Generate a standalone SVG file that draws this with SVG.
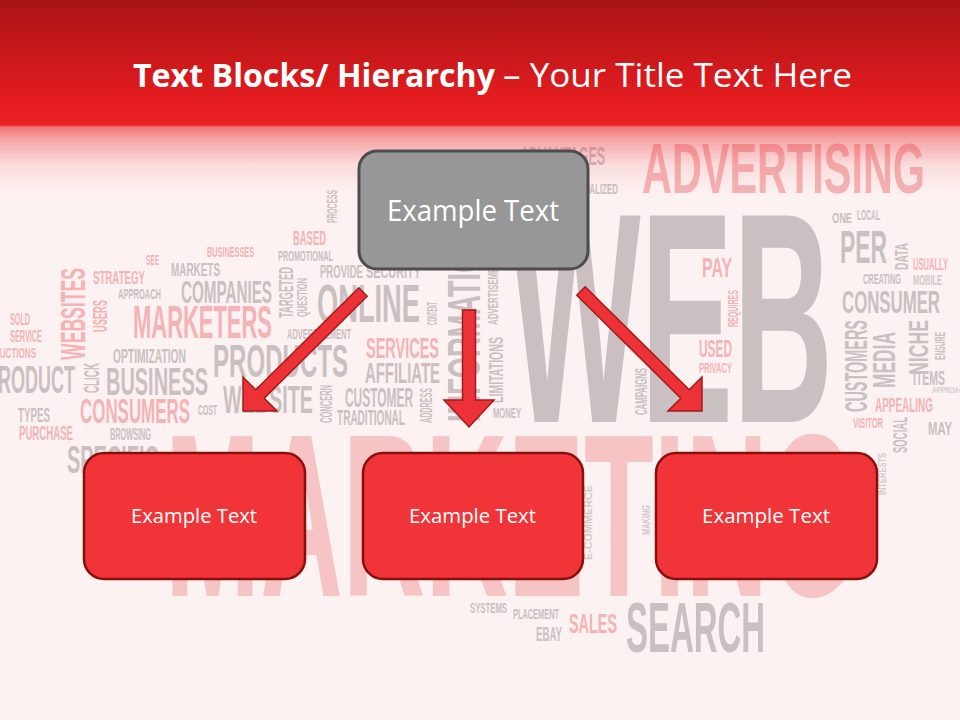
<svg xmlns="http://www.w3.org/2000/svg" width="960" height="720" viewBox="0 0 960 720">
  <defs>
    <linearGradient id="barGrad" x1="0" y1="0" x2="0" y2="1">
      <stop offset="0" stop-color="#a91315"/>
      <stop offset="0.8" stop-color="#e41c1f"/>
      <stop offset="1" stop-color="#ea2024"/>
    </linearGradient>
    <linearGradient id="fadeGrad" x1="0" y1="0" x2="0" y2="1">
      <stop offset="0" stop-color="#ea2a2d" stop-opacity="0.85"/>
      <stop offset="0.05" stop-color="#ec3d40" stop-opacity="0.68"/>
      <stop offset="0.21" stop-color="#ec3d40" stop-opacity="0.42"/>
      <stop offset="0.54" stop-color="#ec3d40" stop-opacity="0.12"/>
      <stop offset="0.85" stop-color="#ec3d40" stop-opacity="0.02"/>
      <stop offset="1" stop-color="#ec3d40" stop-opacity="0"/>
    </linearGradient>
  </defs>
  <style>
    .w{font-family:"Liberation Sans",Arial,sans-serif;font-weight:700}
    .g{fill:#cac0c1}
    .gl{fill:#d2c9ca}
    .p{fill:#f4b3b5}
    .pl{fill:#f7c4c5}
    .title{font-family:"Open Sans","Liberation Sans",sans-serif;fill:#ffffff}
    .top-box{fill:#979797;stroke:#4d4d4d;stroke-width:3}
    .box{fill:#f03437;stroke:#8b0e0e;stroke-width:2.5}
    .label{font-family:"Open Sans","Liberation Sans",sans-serif;fill:#ffffff}
    .arrow{fill:#ec3237;stroke:#a31a1d;stroke-width:1.5;stroke-linejoin:miter}
  </style>

  <rect id="background" x="0" y="0" width="960" height="720" fill="#fdf2f2"/>

  <g id="wordcloud">
    <!-- large words -->
    <text class="w g" x="510" y="422" font-size="300" textLength="323" lengthAdjust="spacingAndGlyphs">WEB</text>
    <text class="w pl" x="165" y="596" font-size="232" textLength="692" lengthAdjust="spacingAndGlyphs">MARKETING</text>
    <text class="w p" x="642" y="193" font-size="71" textLength="283" lengthAdjust="spacingAndGlyphs">ADVERTISING</text>
    <text class="w g" x="626" y="652" font-size="70" textLength="139" lengthAdjust="spacingAndGlyphs">SEARCH</text>
    <text class="w g" transform="translate(480,422) rotate(-90)" font-size="46" textLength="190" lengthAdjust="spacingAndGlyphs">INFORMATION</text>

    <!-- bottom cluster -->
    <text class="w p" x="569" y="633" font-size="28" textLength="48" lengthAdjust="spacingAndGlyphs">SALES</text>
    <text class="w g" x="536" y="641" font-size="20" textLength="26" lengthAdjust="spacingAndGlyphs">EBAY</text>
    <text class="w g" x="513" y="619" font-size="15" textLength="46" lengthAdjust="spacingAndGlyphs">PLACEMENT</text>
    <text class="w g" x="470" y="613" font-size="15" textLength="37" lengthAdjust="spacingAndGlyphs">SYSTEMS</text>
    <text class="w gl" transform="translate(592,560) rotate(-90)" font-size="10" textLength="75" lengthAdjust="spacingAndGlyphs">E-COMMERCE</text>
    <text class="w gl" transform="translate(650,535) rotate(-90)" font-size="10" textLength="30" lengthAdjust="spacingAndGlyphs">MAKING</text>
    <text class="w gl" transform="translate(886,495) rotate(-90)" font-size="11" textLength="42" lengthAdjust="spacingAndGlyphs">INTERESTS</text>

    <!-- top middle -->
    <text class="w g" x="520" y="165" font-size="25" textLength="85" lengthAdjust="spacingAndGlyphs">ADVANTAGES</text>
    <text class="w g" x="566" y="194" font-size="15" textLength="52" lengthAdjust="spacingAndGlyphs">SPECIALIZED</text>
    <text class="w g" transform="translate(337,223) rotate(-90)" font-size="14" textLength="33" lengthAdjust="spacingAndGlyphs">PROCESS</text>

    <!-- right cluster -->
    <text class="w g" x="832" y="223" font-size="15" textLength="20" lengthAdjust="spacingAndGlyphs">ONE</text>
    <text class="w g" x="857" y="220" font-size="14" textLength="23" lengthAdjust="spacingAndGlyphs">LOCAL</text>
    <text class="w g" x="840" y="263" font-size="46" textLength="47" lengthAdjust="spacingAndGlyphs">PER</text>
    <text class="w g" transform="translate(908,270) rotate(-90)" font-size="18" textLength="27" lengthAdjust="spacingAndGlyphs">DATA</text>
    <text class="w p" x="913" y="270" font-size="16" textLength="35" lengthAdjust="spacingAndGlyphs">USUALLY</text>
    <text class="w g" x="863" y="284" font-size="15" textLength="38" lengthAdjust="spacingAndGlyphs">CREATING</text>
    <text class="w gl" x="913" y="285" font-size="14" textLength="29" lengthAdjust="spacingAndGlyphs">MOBILE</text>
    <text class="w g" x="842" y="313" font-size="32" textLength="98" lengthAdjust="spacingAndGlyphs">CONSUMER</text>
    <text class="w g" transform="translate(867,412) rotate(-90)" font-size="31" textLength="92" lengthAdjust="spacingAndGlyphs">CUSTOMERS</text>
    <text class="w g" transform="translate(895,388) rotate(-90)" font-size="32" textLength="56" lengthAdjust="spacingAndGlyphs">MEDIA</text>
    <text class="w g" transform="translate(928,375) rotate(-90)" font-size="28" textLength="55" lengthAdjust="spacingAndGlyphs">NICHE</text>
    <text class="w g" transform="translate(945,360) rotate(-90)" font-size="14" textLength="28" lengthAdjust="spacingAndGlyphs">ENSURE</text>
    <text class="w g" x="913" y="385" font-size="21" textLength="32" lengthAdjust="spacingAndGlyphs">ITEMS</text>
    <text class="w gl" x="932" y="393" font-size="9" textLength="36" lengthAdjust="spacingAndGlyphs">APPROACH</text>
    <text class="w p" x="875" y="412" font-size="21" textLength="58" lengthAdjust="spacingAndGlyphs">APPEALING</text>
    <text class="w p" x="853" y="428" font-size="15" textLength="30" lengthAdjust="spacingAndGlyphs">VISITOR</text>
    <text class="w g" transform="translate(907,453) rotate(-90)" font-size="20" textLength="36" lengthAdjust="spacingAndGlyphs">SOCIAL</text>
    <text class="w g" x="928" y="435" font-size="18" textLength="24" lengthAdjust="spacingAndGlyphs">MAY</text>

    <!-- inside WEB area -->
    <text class="w p" x="702" y="277" font-size="28" textLength="30" lengthAdjust="spacingAndGlyphs">PAY</text>
    <text class="w p" transform="translate(738,327) rotate(-90)" font-size="15" textLength="37" lengthAdjust="spacingAndGlyphs">REQUIRES</text>
    <text class="w p" x="699" y="357" font-size="24" textLength="33" lengthAdjust="spacingAndGlyphs">USED</text>
    <text class="w p" x="699" y="373" font-size="14" textLength="33" lengthAdjust="spacingAndGlyphs">PRIVACY</text>
    <text class="w g" transform="translate(647,415) rotate(-90)" font-size="17" textLength="47" lengthAdjust="spacingAndGlyphs">CAMPAIGNS</text>
    <text class="w g" x="493" y="418" font-size="15" textLength="28" lengthAdjust="spacingAndGlyphs">MONEY</text>
    <text class="w g" transform="translate(503,403) rotate(-90)" font-size="21" textLength="66" lengthAdjust="spacingAndGlyphs">LIMITATIONS</text>
    <text class="w g" transform="translate(498,325) rotate(-90)" font-size="14" textLength="68" lengthAdjust="spacingAndGlyphs">ADVERTISEMENT</text>

    <!-- left cluster -->
    <text class="w p" x="293" y="245" font-size="20" textLength="33" lengthAdjust="spacingAndGlyphs">BASED</text>
    <text class="w p" x="207" y="257" font-size="15" textLength="47" lengthAdjust="spacingAndGlyphs">BUSINESSES</text>
    <text class="w g" x="278" y="261" font-size="14" textLength="55" lengthAdjust="spacingAndGlyphs">PROMOTIONAL</text>
    <text class="w p" x="146" y="265" font-size="14" textLength="13" lengthAdjust="spacingAndGlyphs">SEE</text>
    <text class="w g" x="171" y="276" font-size="18" textLength="49" lengthAdjust="spacingAndGlyphs">MARKETS</text>
    <text class="w g" x="320" y="278" font-size="18" textLength="43" lengthAdjust="spacingAndGlyphs">PROVIDE</text>
    <text class="w g" x="366" y="278" font-size="18" textLength="55" lengthAdjust="spacingAndGlyphs">SECURITY</text>
    <text class="w p" x="93" y="284" font-size="18" textLength="52" lengthAdjust="spacingAndGlyphs">STRATEGY</text>
    <text class="w g" x="118" y="299" font-size="15" textLength="43" lengthAdjust="spacingAndGlyphs">APPROACH</text>
    <text class="w g" x="181" y="303" font-size="32" textLength="91" lengthAdjust="spacingAndGlyphs">COMPANIES</text>
    <text class="w g" transform="translate(293,318) rotate(-90)" font-size="21" textLength="51" lengthAdjust="spacingAndGlyphs">TARGETED</text>
    <text class="w g" transform="translate(307,317) rotate(-90)" font-size="14" textLength="39" lengthAdjust="spacingAndGlyphs">QUESTION</text>
    <text class="w g" x="317" y="322" font-size="54" textLength="103" lengthAdjust="spacingAndGlyphs">ONLINE</text>
    <text class="w g" transform="translate(437,325) rotate(-90)" font-size="14" textLength="23" lengthAdjust="spacingAndGlyphs">CONTENT</text>
    <text class="w p" transform="translate(85,360) rotate(-90)" font-size="35" textLength="92" lengthAdjust="spacingAndGlyphs">WEBSITES</text>
    <text class="w p" transform="translate(107,332) rotate(-90)" font-size="21" textLength="32" lengthAdjust="spacingAndGlyphs">USERS</text>
    <text class="w p" x="10" y="325" font-size="17" textLength="20" lengthAdjust="spacingAndGlyphs">SOLD</text>
    <text class="w p" x="10" y="342" font-size="17" textLength="32" lengthAdjust="spacingAndGlyphs">SERVICE</text>
    <text class="w p" x="133" y="338" font-size="46" textLength="139" lengthAdjust="spacingAndGlyphs">MARKETERS</text>
    <text class="w g" x="287" y="339" font-size="15" textLength="64" lengthAdjust="spacingAndGlyphs">ADVERTISEMENT</text>
    <text class="w p" x="-6" y="358" font-size="15" textLength="42" lengthAdjust="spacingAndGlyphs">AUCTIONS</text>
    <text class="w g" x="113" y="363" font-size="20" textLength="73" lengthAdjust="spacingAndGlyphs">OPTIMIZATION</text>
    <text class="w p" x="366" y="358" font-size="30" textLength="73" lengthAdjust="spacingAndGlyphs">SERVICES</text>
    <text class="w g" x="213" y="377" font-size="47" textLength="135" lengthAdjust="spacingAndGlyphs">PRODUCTS</text>
    <text class="w g" x="365" y="383" font-size="30" textLength="75" lengthAdjust="spacingAndGlyphs">AFFILIATE</text>
    <text class="w g" x="-14" y="393" font-size="39" textLength="89" lengthAdjust="spacingAndGlyphs">PRODUCT</text>
    <text class="w g" transform="translate(99,393) rotate(-90)" font-size="22" textLength="30" lengthAdjust="spacingAndGlyphs">CLICK</text>
    <text class="w g" x="106" y="395" font-size="39" textLength="102" lengthAdjust="spacingAndGlyphs">BUSINESS</text>
    <text class="w g" x="223" y="413" font-size="39" textLength="90" lengthAdjust="spacingAndGlyphs">WEBSITE</text>
    <text class="w g" transform="translate(332,423) rotate(-90)" font-size="17" textLength="38" lengthAdjust="spacingAndGlyphs">CONCERN</text>
    <text class="w g" x="345" y="407" font-size="28" textLength="68" lengthAdjust="spacingAndGlyphs">CUSTOMER</text>
    <text class="w g" x="337" y="425" font-size="22" textLength="68" lengthAdjust="spacingAndGlyphs">TRADITIONAL</text>
    <text class="w g" transform="translate(432,423) rotate(-90)" font-size="17" textLength="35" lengthAdjust="spacingAndGlyphs">ADDRESS</text>
    <text class="w g" x="18" y="422" font-size="21" textLength="32" lengthAdjust="spacingAndGlyphs">TYPES</text>
    <text class="w p" x="80" y="423" font-size="35" textLength="110" lengthAdjust="spacingAndGlyphs">CONSUMERS</text>
    <text class="w g" x="198" y="415" font-size="14" textLength="19" lengthAdjust="spacingAndGlyphs">COST</text>
    <text class="w p" x="19" y="440" font-size="21" textLength="54" lengthAdjust="spacingAndGlyphs">PURCHASE</text>
    <text class="w g" x="110" y="440" font-size="17" textLength="41" lengthAdjust="spacingAndGlyphs">BROWSING</text>
    <text class="w g" x="67" y="473" font-size="39" textLength="92" lengthAdjust="spacingAndGlyphs">SPECIFIC</text>
  </g>

  <g id="title">
    <rect x="0" y="0" width="960" height="126" fill="url(#barGrad)"/>
    <rect x="0" y="124" width="960" height="76" fill="url(#fadeGrad)"/>
    <text class="title" x="133" y="87" font-size="33" font-weight="700" textLength="362" lengthAdjust="spacingAndGlyphs">Text Blocks/ Hierarchy</text>
    <text class="title" x="503" y="87" font-size="33" textLength="349" lengthAdjust="spacingAndGlyphs">– Your Title Text Here</text>
  </g>

  <g id="connectors">
    <polygon class="arrow" points="367.2,296.2 264.2,398.2 277,411 243,411 243,377 255.8,389.8 358.8,287.8"/>
    <polygon class="arrow" points="462.5,310 475.5,310 475.5,400 494,400 469,427 444,400 462.5,400"/>
    <polygon class="arrow" points="585.2,286.8 689.2,389.8 702,377 702,411 668,411 680.8,398.2 576.8,295.2"/>
  </g>

  <g id="node-top">
    <rect class="top-box" x="359" y="151" width="229" height="118" rx="18"/>
    <text class="label" x="387" y="221" font-size="29" textLength="172" lengthAdjust="spacingAndGlyphs">Example Text</text>
  </g>

  <g id="node-left">
    <rect class="box" x="84" y="453" width="221" height="126" rx="20"/>
    <text class="label" x="131" y="523" font-size="20" textLength="126" lengthAdjust="spacingAndGlyphs">Example Text</text>
  </g>

  <g id="node-center">
    <rect class="box" x="363" y="453" width="220" height="126" rx="20"/>
    <text class="label" x="409" y="523" font-size="20" textLength="127" lengthAdjust="spacingAndGlyphs">Example Text</text>
  </g>

  <g id="node-right">
    <rect class="box" x="656" y="453" width="221" height="126" rx="20"/>
    <text class="label" x="702" y="523" font-size="20" textLength="128" lengthAdjust="spacingAndGlyphs">Example Text</text>
  </g>
</svg>
